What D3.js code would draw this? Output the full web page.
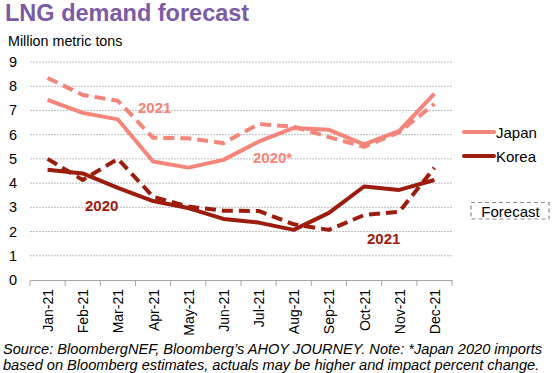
<!DOCTYPE html>
<html><head><meta charset="utf-8">
<script src="https://cdn.jsdelivr.net/npm/d3@7"></script>
<style>body{margin:0;background:#fff}svg{display:block;font-family:Arial,"Liberation Sans",sans-serif}</style>
</head><body><svg id="c" width="554" height="373"></svg>
<script>
const months = ["Jan-21","Feb-21","Mar-21","Apr-21","May-21","Jun-21","Jul-21","Aug-21","Sep-21","Oct-21","Nov-21","Dec-21"];
const japan2020 = [7.44,6.9,6.63,4.89,4.64,4.96,5.71,6.28,6.2,5.6,6.16,7.69];
const japan2021 = [8.34,7.64,7.4,5.87,5.85,5.65,6.44,6.33,5.9,5.5,6.1,7.27];
const korea2020 = [4.55,4.4,3.8,3.26,2.97,2.52,2.37,2.07,2.77,3.86,3.72,4.13];
const korea2021 = [5.0,4.13,5.0,3.44,3.03,2.86,2.85,2.3,2.07,2.68,2.82,4.63];
const yTicks = [0,1,2,3,4,5,6,7,8,9];

const JAP = "#f4857b", KOR = "#9c1c0e";
const svg = d3.select("#c");
const x = d3.scaleBand().domain(months).range([30, 452]);
const y = d3.scaleLinear().domain([0, 9]).range([280, 62]);

svg.append("text").attr("x",5).attr("y",21).attr("font-size",23.5).attr("font-weight","bold").attr("fill","#7b5aa6").text("LNG demand forecast");
svg.append("text").attr("x",8).attr("y",46).attr("font-size",14.3).attr("fill","#000").text("Million metric tons");

// grid
svg.append("g").selectAll("line").data(yTicks.filter(d=>d>0)).join("line")
  .attr("x1",30).attr("x2",452).attr("y1",d=>y(d)).attr("y2",d=>y(d))
  .attr("stroke","#bdbdbd").attr("stroke-width",1).attr("stroke-dasharray","2,1");
// y labels
svg.append("g").selectAll("text").data(yTicks).join("text")
  .attr("x",13).attr("y",d=>y(d)+5).attr("text-anchor","middle").attr("font-size",14.5).text(d=>d);

// x axis
const xa = svg.append("g").attr("transform","translate(0,280)")
  .call(d3.axisBottom(x).tickSize(0).tickFormat(""));
xa.select(".domain").attr("stroke","#a6a6a6");
svg.append("g").selectAll("line").data(d3.range(13)).join("line")
  .attr("x1",i=>30+i*x.step()).attr("x2",i=>30+i*x.step()).attr("y1",280).attr("y2",286)
  .attr("stroke","#a6a6a6");
svg.append("g").selectAll("text").data(months).join("text")
  .attr("transform",d=>`translate(${x(d)+x.bandwidth()/2+5.5},289) rotate(-90)`)
  .attr("text-anchor","end").attr("font-size",14).text(d=>d);

const line = d3.line().x((d,i)=>x(months[i])+x.bandwidth()/2).y(d=>y(d));
function draw(data,color,dashed){
  svg.append("path").attr("d",line(data)).attr("fill","none").attr("stroke",color)
    .attr("stroke-width",4).attr("stroke-linejoin","round")
    .attr("stroke-dasharray",dashed?"11,6":null);
}
draw(japan2021,JAP,true);
draw(japan2020,JAP,false);
draw(korea2021,KOR,true);
draw(korea2020,KOR,false);

// annotations
const ann = [["2021",138,113,JAP],["2020*",253,163,JAP],["2020",85,211,KOR],["2021",367,244,KOR]];
svg.append("g").selectAll("text").data(ann).join("text")
  .attr("x",d=>d[1]).attr("y",d=>d[2]).attr("fill",d=>d[3]).attr("font-size",15).attr("font-weight","bold").text(d=>d[0]);

// legend
const leg = [["Japan",JAP,132],["Korea",KOR,156]];
leg.forEach(l=>{
  svg.append("line").attr("x1",464).attr("x2",494).attr("y1",l[2]).attr("y2",l[2]).attr("stroke",l[1]).attr("stroke-width",4).attr("stroke-linecap","round");
  svg.append("text").attr("x",496).attr("y",l[2]+5.5).attr("font-size",15).text(l[0]);
});
svg.append("rect").attr("x",471).attr("y",202.5).attr("width",78).attr("height",16.5).attr("fill","none")
  .attr("stroke","#8c8c8c").attr("stroke-width",1.2).attr("stroke-dasharray","4,3");
svg.append("text").attr("x",510.5).attr("y",216.5).attr("text-anchor","middle").attr("font-size",15).text("Forecast");

svg.append("text").attr("x",3).attr("y",354).attr("font-size",14.6).attr("font-style","italic")
  .text("Source: BloombergNEF, Bloomberg\u2019s AHOY JOURNEY. Note: *Japan 2020 imports");
svg.append("text").attr("x",3).attr("y",370).attr("font-size",14.6).attr("font-style","italic")
  .text("based on Bloomberg estimates, actuals may be higher and impact percent change.");
</script></body></html>
